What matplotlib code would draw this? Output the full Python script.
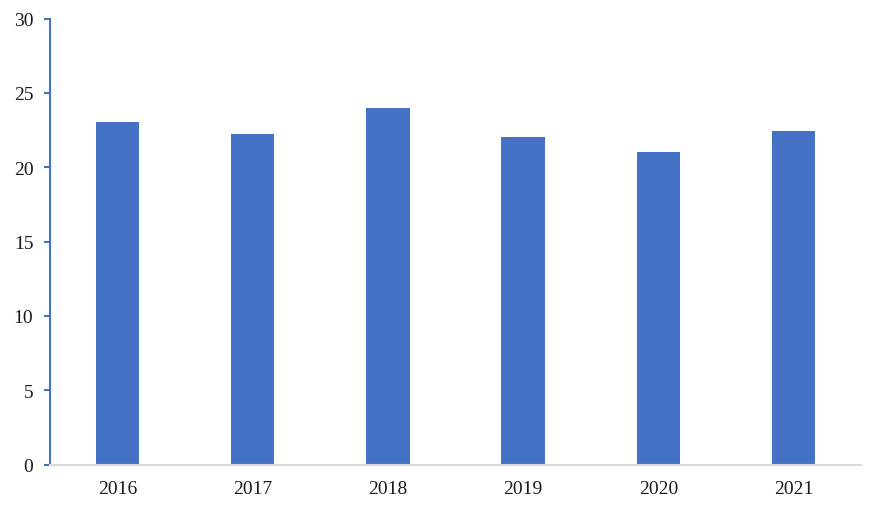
import matplotlib
matplotlib.use("Agg")
import matplotlib.pyplot as plt

years = ["2016", "2017", "2018", "2019", "2020", "2021"]
values = [23.05, 22.2, 23.95, 22.0, 21.0, 22.4]
yticks = [0, 5, 10, 15, 20, 25, 30]

plt.rcParams['font.family'] = ['Liberation Serif', 'DejaVu Serif']

fig = plt.figure(figsize=(8.72, 5.10), dpi=100)
ax = fig.add_axes([50/872, 44.5/510, 811/872, 446/510])
x = list(range(len(years)))
ax.bar(x, values, width=0.32, color="#4472C4", zorder=2)
ax.set_xlim(-0.5, len(years) - 0.5)
ax.set_ylim(0, 30)
ax.set_yticks(yticks)
ax.set_yticklabels([str(t) for t in yticks], fontsize=14)
ax.set_xticks(x)
ax.set_xticklabels(years, fontsize=14)
for s in ["top", "right"]:
    ax.spines[s].set_visible(False)
ax.spines["left"].set_color("#4472C4")
ax.spines["left"].set_linewidth(1.5)
ax.spines["bottom"].set_color("#D9D9D9")
ax.spines["bottom"].set_linewidth(1.5)
ax.tick_params(axis="y", direction="out", length=4, width=1.5, color="#4472C4", pad=8, labelcolor="#1a1a1a")
ax.tick_params(axis="x", length=0, pad=11.5, labelcolor="#1a1a1a")
fig.savefig("out.png", dpi=100)
